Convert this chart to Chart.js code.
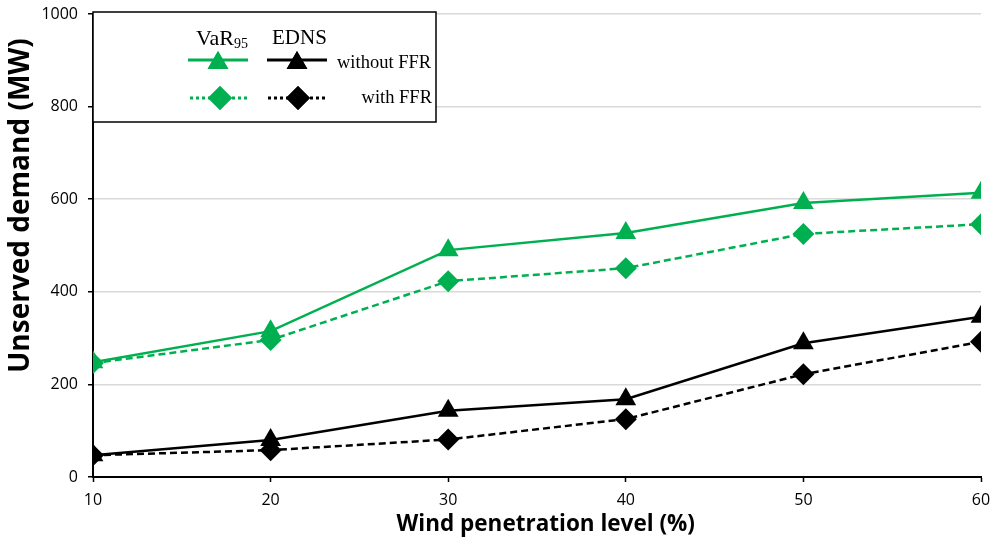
<!DOCTYPE html>
<html>
<head>
<meta charset="utf-8">
<script src="https://cdn.jsdelivr.net/npm/chart.js"></script>
<style>
  body { margin: 0; background: #fff; }
  #wrap { width: 993px; height: 542px; }
</style>
</head>
<body>
<div id="wrap"><canvas id="myChart"></canvas></div>
<script>
const windLevels = [10, 20, 30, 40, 50, 60];
const varWithoutFFR = [248, 315, 490, 527, 592, 614];
const varWithFFR = [246, 296, 423, 451, 525, 546];
const ednsWithoutFFR = [47, 80, 143, 168, 289, 346];
const ednsWithFFR = [47, 58, 81, 125, 222, 292];

const green = '#00B050';
const pts = vals => vals.map((v, i) => ({ x: windLevels[i], y: v }));

// legend box drawn by hand, like the original figure
const legendBox = {
  id: 'legendBox',
  afterDraw(chart) {
    const c = chart.ctx;
    c.save();
    c.fillStyle = '#fff';
    c.fillRect(93, 12, 343, 110);
    c.strokeStyle = '#000';
    c.lineWidth = 1.5;
    c.strokeRect(93, 12, 343, 110);

    c.fillStyle = '#000';
    c.textBaseline = 'alphabetic';
    c.font = '22px "Liberation Serif"';
    c.fillText('VaR', 196, 45);
    const w = c.measureText('VaR').width;
    c.font = '14px "Liberation Serif"';
    c.fillText('95', 196 + w, 48);
    c.font = '21px "Liberation Serif"';
    c.fillText('EDNS', 272, 44);
    c.font = '18.5px "Liberation Serif"';
    c.textBaseline = 'middle';
    c.fillText('without FFR', 337, 63);
    c.textAlign = 'right';
    c.fillText('with FFR', 432, 98);

    const rows = [
      { y: 60, x0: 188, col: green, dash: [], style: 'triangle', r: 12 },
      { y: 60, x0: 267, col: '#000', dash: [], style: 'triangle', r: 12 },
      { y: 98, x0: 190, col: green, dash: [3, 3], style: 'rectRot', r: 12 },
      { y: 98, x0: 268, col: '#000', dash: [3, 3], style: 'rectRot', r: 12 }
    ];
    rows.forEach(r => {
      c.beginPath();
      c.setLineDash(r.dash);
      c.strokeStyle = r.col;
      c.lineWidth = 3;
      c.moveTo(r.x0, r.y);
      c.lineTo(r.x0 + 60, r.y);
      c.stroke();
      c.setLineDash([]);
      c.fillStyle = r.col;
      Chart.helpers.drawPoint(c, { pointStyle: r.style, radius: r.r, borderWidth: 0, rotation: 0 }, r.x0 + 30, r.y + (r.style === 'triangle' ? 3 : 0));
      c.fill();
    });
    c.restore();
  }
};

function series(label, vals, color, dash, style, r) {
  return {
    label: label,
    data: pts(vals),
    borderColor: color,
    backgroundColor: color,
    borderWidth: 2.5,
    borderDash: dash,
    pointStyle: style,
    pointRadius: r,
    pointBorderWidth: 0,
    pointHoverRadius: r,
    tension: 0
  };
}

new Chart(document.getElementById('myChart'), {
  type: 'line',
  data: {
    datasets: [
      series('VaR95 without FFR', varWithoutFFR, green, [], 'triangle', 12),
      series('VaR95 with FFR', varWithFFR, green, [7, 4], 'rectRot', 11),
      series('EDNS without FFR', ednsWithoutFFR, '#000', [], 'triangle', 12),
      series('EDNS with FFR', ednsWithFFR, '#000', [7, 4], 'rectRot', 11)
    ]
  },
  options: {
    responsive: true,
    maintainAspectRatio: false,
    animation: false,
    layout: { padding: { top: 14, right: 11, left: 0, bottom: 0 } },
    plugins: { legend: { display: false }, tooltip: { enabled: false } },
    scales: {
      x: {
        type: 'linear',
        min: 10,
        max: 60,
        ticks: { stepSize: 10, color: '#000', font: { family: 'Open Sans', size: 16 }, padding: 9 },
        grid: { drawOnChartArea: false, tickColor: '#000', tickLength: 5, tickWidth: 1.5 },
        border: { color: '#000', width: 2 },
        title: { display: true, text: '   Wind penetration level (%)', color: '#000', font: { family: 'Open Sans', size: 22.5, weight: 'bold' }, padding: { top: 0 } },
        afterFit(scale) { scale.height = 65; scale.paddingLeft = 0; scale.paddingRight = 0; }
      },
      y: {
        min: 0,
        max: 1000,
        ticks: { stepSize: 200, color: '#000', font: { family: 'Open Sans', size: 16 }, padding: 10, callback: v => String(v) },
        grid: { color: '#d9d9d9', lineWidth: 1.5, tickColor: '#000', tickLength: 5 },
        border: { color: '#000', width: 2 },
        title: { display: true, text: '           Unserved demand (MW)', color: '#000', font: { family: 'Open Sans', size: 28, weight: 'bold' }, padding: { bottom: 2 } },
        afterFit(scale) { scale.width = 93; scale.paddingTop = 0; scale.paddingBottom = 0; }
      }
    }
  },
  plugins: [legendBox]
});
</script>
</body>
</html>
